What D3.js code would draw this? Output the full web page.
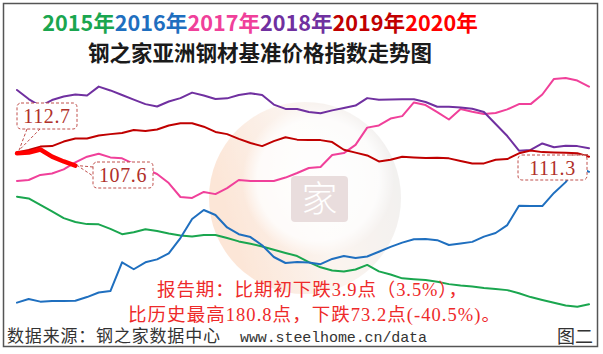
<!DOCTYPE html>
<html>
<head>
<meta charset="utf-8">
<script src="https://cdn.jsdelivr.net/npm/d3@7"></script>
<style>
  body { margin: 0; background: #fff; }
</style>
</head>
<body>
<svg id="chart" width="603" height="354"></svg>
<script>
// weekly index, 50 weeks per year
var weeks = d3.range(1, 51);
var years = ['2015', '2016', '2017', '2018', '2019', '2020'];
var colors = ['#1aa64f', '#1f6fbf', '#f0409a', '#7030a0', '#c00000', '#ff0000'];

var s2015 = [94.6,93.9,91.2,88.5,85.7,84.1,83.2,83.1,81.2,79.0, 79.8,81.1,80.3,79.3,78.5,78.0,78.7,78.7,77.4,76.0,
             75.0,73.9,72.5,71.2,69.9,67.4,65.2,63.9,63.5,64.3, 66.2,63.5,62.2,60.6,60.2,59.9,59.2,58.2,57.6,57.2,
             56.6,56.2,55.7,54.4,52.8,51.6,50.4,49.3,48.8,49.8];
var s2016 = [50.5,52.0,50.9,51.2,51.2,51.3,52.8,54.7,55.3,67.3, 64.4,67.3,68.5,71.0,77.4,85.3,89.1,87.0,81.8,79.0,
             77.8,74.4,69.5,67.0,67.4,67.2,66.5,68.7,69.9,69.1, 69.7,71.7,73.7,75.5,76.9,77.0,76.5,74.5,75.1,75.8,
             78.0,79.5,82.8,90.9,90.7,90.7,96.2,100.7,107.2,105.0];
var s2017 = [101.2,101.6,103.7,104.3,106.0,108.9,111.3,112.5,111.0,110.6, 108.3,106.2,104.1,100.3,94.5,94.1,96.6,95.7,98.2,101.6,
             101.2,101.2,101.2,102.6,104.5,106.6,107.0,112.0,112.8,116.2, 123.4,124.3,127.2,128.2,133.9,132.8,129.9,126.8,131.2,130.0,
             129.1,129.5,131.0,133.2,133.2,137.2,143.7,144.1,143.0,140.5];
var s2018 = [139.1,135.3,132.4,134.9,136.4,137.2,136.8,140.5,138.9,137.0, 135.1,133.2,132.2,134.3,135.7,138.0,136.8,135.3,135.6,137.0,
             137.7,137.0,133.0,131.2,131.2,129.9,129.4,130.6,131.6,132.6, 135.7,135.0,135.1,135.2,135.2,134.1,132.1,132.1,131.8,131.3,
             129.9,124.9,119.9,113.8,114.1,116.8,115.2,115.9,115.7,114.8];
var s2019 = [113.1,114.1,115.5,115.7,117.6,118.9,118.9,120.1,120.7,121.2, 122.4,122.0,122.6,124.3,125.2,125.2,123.8,121.6,120.7,118.7,
             117.0,115.7,117.8,119.4,118.4,118.2,118.2,117.4,114.2,113.0, 111.8,109.3,110.0,111.3,111.0,110.7,110.9,110.6,109.5,108.5,
             108.5,110.0,110.3,112.7,113.9,113.2,113.0,112.9,112.7,111.3];
var s2020 = [112.7,113.0,114.3,111.3,109.3,107.6];

var series = [s2015, s2016, s2017, s2018, s2019, s2020];

var svg = d3.select('#chart');

var x = d3.scaleLinear().domain([1, 50]).range([17, 589]);
var y = d3.scaleLinear().domain([40, 150]).range([327.8, 63.8]);

// frame
svg.append('rect')
  .attr('x', 3.5).attr('y', 3.5)
  .attr('width', 594).attr('height', 343)
  .attr('fill', '#fff')
  .attr('stroke', '#555').attr('stroke-width', 1.5);

// faint logo watermark
var defs = svg.append('defs');
var lg = defs.append('linearGradient').attr('id', 'wm').attr('x1', 0).attr('x2', 1).attr('y1', 0.3).attr('y2', 0);
lg.append('stop').attr('offset', '0%').attr('stop-color', '#fbd6bd');
lg.append('stop').attr('offset', '45%').attr('stop-color', '#faeee6');
lg.append('stop').attr('offset', '100%').attr('stop-color', '#e6e6e6');
var rg = defs.append('radialGradient').attr('id', 'wmin');
rg.append('stop').attr('offset', '0%').attr('stop-color', '#fff').attr('stop-opacity', 0.95);
rg.append('stop').attr('offset', '80%').attr('stop-color', '#fff').attr('stop-opacity', 0.8);
rg.append('stop').attr('offset', '100%').attr('stop-color', '#fff').attr('stop-opacity', 0);

var wm = svg.append('g').attr('opacity', 0.6);
wm.append('circle').attr('cx', 305).attr('cy', 198).attr('r', 96).attr('fill', 'url(#wm)');
wm.append('circle').attr('cx', 318).attr('cy', 180).attr('r', 76).attr('fill', 'url(#wmin)');
wm.append('rect').attr('x', 291).attr('y', 176).attr('width', 57).attr('height', 46).attr('rx', 4)
  .attr('fill', '#dcc8c8');
wm.append('text').attr('x', 319.5).attr('y', 212).attr('text-anchor', 'middle')
  .style('font-family', '"Noto Sans CJK SC"').style('font-size', '36px').style('font-weight', '300')
  .attr('fill', '#fff').text('家');

// lines
var line = d3.line()
  .x(function(d, i) { return x(weeks[i]); })
  .y(function(d) { return y(d); });

series.forEach(function(s, k) {
  svg.append('path')
    .datum(s)
    .attr('fill', 'none')
    .attr('stroke', colors[k])
    .attr('stroke-width', k === 5 ? 4.5 : 2)
    .attr('stroke-linejoin', 'round')
    .attr('stroke-linecap', 'round')
    .attr('d', line);
});

// callouts
var calloutColor = '#c0504d';
function callout(tx, ty, bx, by, bw, bh, p1, p2, label) {
  var g = svg.append('g');
  g.append('rect')
    .attr('x', bx).attr('y', by).attr('width', bw).attr('height', bh).attr('rx', 4)
    .attr('fill', '#fff')
    .attr('stroke', calloutColor).attr('stroke-width', 1)
    .attr('stroke-dasharray', '3,2');
  g.append('path')
    .attr('d', 'M' + p1[0] + ',' + p1[1] + 'L' + tx + ',' + ty + 'L' + p2[0] + ',' + p2[1])
    .attr('fill', 'none')
    .attr('stroke', calloutColor).attr('stroke-width', 1)
    .attr('stroke-dasharray', '3,2');
  g.append('text')
    .attr('x', bx + bw / 2).attr('y', by + bh / 2 + 7)
    .attr('text-anchor', 'middle')
    .style('font-family', '"Liberation Serif", serif')
    .style('font-size', '20px')
    .style('letter-spacing', '0.6px')
    .attr('fill', '#b0302a')
    .text(label);
}

var first = s2020[0], last = s2020[s2020.length - 1], end19 = s2019[s2019.length - 1];
callout(x(1) + 2, y(first) - 3, 17, 103, 60, 26, [27, 129], [40, 129], first.toFixed(1));
callout(x(s2020.length) + 2, y(last), 93, 162, 60, 26, [93, 167], [93, 176], last.toFixed(1));
callout(x(50), y(end19) - 2, 518, 155, 69, 25, [570, 155], [582, 155], end19.toFixed(1));

// title
var title = svg.append('text')
  .attr('x', 260).attr('y', 31)
  .attr('text-anchor', 'middle')
  .style('font-family', '"Noto Sans CJK SC", sans-serif')
  .style('font-weight', 'bold')
  .style('font-size', '24px');
years.forEach(function(yr, i) {
  title.append('tspan').attr('fill', colors[i]).text(yr + '年');
});
var tw = title.node().getComputedTextLength();
if (tw) title.style('font-size', (24 * 436 / tw) + 'px');

svg.append('text')
  .attr('x', 260).attr('y', 61)
  .attr('text-anchor', 'middle')
  .style('font-family', '"Noto Sans CJK SC", sans-serif')
  .style('font-weight', 'bold')
  .style('font-size', '21.5px')
  .attr('fill', '#1a1a1a')
  .text('钢之家亚洲钢材基准价格指数走势图');

// notes
var noteFont = '"Liberation Serif", "Noto Sans CJK SC", serif';
svg.append('text')
  .attr('x', 157).attr('y', 296)
  .attr('textLength', 310).attr('lengthAdjust', 'spacing')
  .style('font-family', noteFont).style('font-size', '18.5px')
  .attr('fill', '#ee2a2a')
  .text('报告期：比期初下跌3.9点（3.5%），');
svg.append('text')
  .attr('x', 128).attr('y', 321)
  .attr('textLength', 372).attr('lengthAdjust', 'spacing')
  .style('font-family', noteFont).style('font-size', '18.5px')
  .attr('fill', '#ee2a2a')
  .text('比历史最高180.8点，下跌73.2点(-40.5%)。');

svg.append('text')
  .attr('x', 7).attr('y', 342)
  .attr('textLength', 213).attr('lengthAdjust', 'spacing')
  .style('font-family', '"Noto Sans CJK SC", sans-serif').style('font-size', '17px')
  .attr('fill', '#333')
  .text('数据来源：钢之家数据中心');
svg.append('text')
  .attr('x', 240).attr('y', 342)
  .attr('textLength', 187).attr('lengthAdjust', 'spacing')
  .style('font-family', '"Liberation Mono", monospace').style('font-size', '15px')
  .attr('fill', '#333')
  .text('www.steelhome.cn/data');

svg.append('text')
  .attr('x', 593).attr('y', 343)
  .attr('text-anchor', 'end')
  .style('font-family', '"Noto Sans CJK SC", sans-serif').style('font-size', '18px')
  .attr('fill', '#333')
  .text('图二');
</script>
</body>
</html>
